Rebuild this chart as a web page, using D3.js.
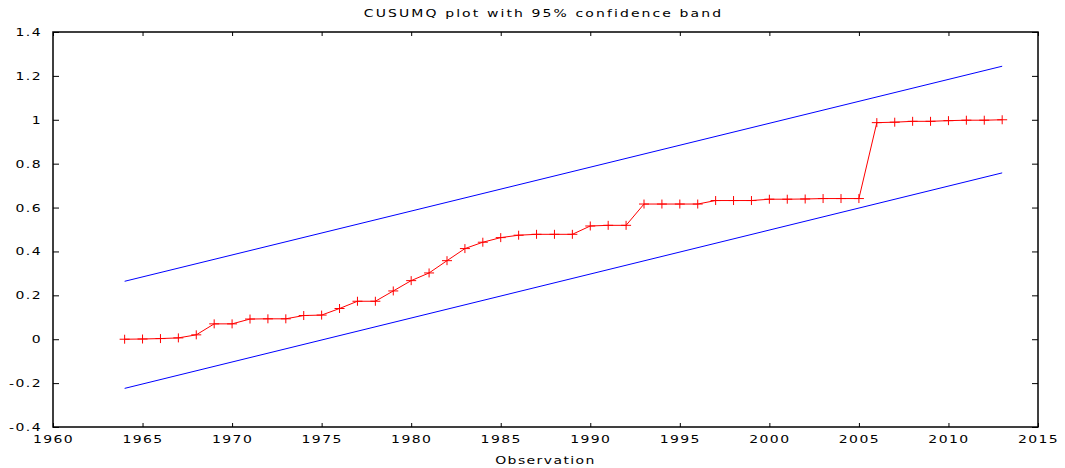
<!DOCTYPE html>
<html>
<head>
<meta charset="utf-8">
<script src="https://cdn.jsdelivr.net/npm/d3@7"></script>
<style>
  body { margin: 0; background: #fff; }
  text { font-family: "DejaVu Sans", sans-serif; }
</style>
</head>
<body>
<div id="chart"></div>
<script>
const width = 1065,
      height = 468;

const margin = { top: 32, right: 27, bottom: 41, left: 53 };

// CUSUMSQ statistic, one value per year
const years = d3.range(1964, 2014);
const cusumsq = [
  0.000, 0.001, 0.003, 0.006, 0.020, 0.070, 0.070, 0.092, 0.093, 0.093,
  0.108, 0.110, 0.140, 0.173, 0.173, 0.220, 0.267, 0.302, 0.358, 0.413,
  0.442, 0.463, 0.474, 0.478, 0.478, 0.478, 0.516, 0.519, 0.519, 0.616,
  0.616, 0.616, 0.616, 0.632, 0.632, 0.632, 0.638, 0.638, 0.639, 0.641,
  0.641, 0.641, 0.987, 0.989, 0.993, 0.993, 0.996, 0.998, 0.998, 1.000
];

// 95% band end points
const bandYears = [1964, 2013];
const upperBand = [0.264, 1.244];
const lowerBand = [-0.224, 0.758];

const xTicks = d3.range(1960, 2016, 5);
const yTicks = [-0.4, -0.2, 0, 0.2, 0.4, 0.6, 0.8, 1, 1.2, 1.4];

const title = "CUSUMQ plot with 95% confidence band",
      xLabel = "Observation";

const stretch = 1.4;

const x = d3.scaleLinear()
    .domain([1960, 2015])
    .range([margin.left, width - margin.right]);

const y = d3.scaleLinear()
    .domain([-0.4, 1.4])
    .range([height - margin.bottom, margin.top]);

const svg = d3.select("#chart")
  .append("svg")
    .attr("width", width)
    .attr("height", height);

const fmt = d => String(+d.toFixed(1));

// Axes, ticks pointing inward on all four sides
const xAxis = svg.append("g")
    .attr("transform", `translate(0,${y.range()[0]})`)
    .call(d3.axisBottom(x).tickValues(xTicks).tickSize(-4).tickFormat(d => d));

const yAxis = svg.append("g")
    .attr("transform", `translate(${margin.left},0)`)
    .call(d3.axisLeft(y).tickValues(yTicks).tickSize(-6).tickFormat(fmt));

svg.append("g")
    .attr("transform", `translate(0,${margin.top})`)
    .call(d3.axisTop(x).tickValues(xTicks).tickSize(-4).tickFormat(""));

svg.append("g")
    .attr("transform", `translate(${width - margin.right},0)`)
    .call(d3.axisRight(y).tickValues(yTicks).tickSize(-6).tickFormat(""));

svg.selectAll(".domain").remove();
svg.selectAll(".tick line").attr("stroke", "#000");

xAxis.selectAll("text")
    .attr("y", 9)
    .attr("dy", "0.71em")
    .attr("fill", "#000")
    .style("font-size", "10px")
    .style("letter-spacing", "1px")
    .attr("transform", `scale(${stretch},1)`);

yAxis.selectAll("text")
    .attr("x", -11 / stretch)
    .attr("dy", "0.35em")
    .attr("fill", "#000")
    .style("font-size", "10px")
    .style("letter-spacing", "1px")
    .attr("transform", `scale(${stretch},1)`);

// Frame
svg.append("rect")
    .attr("x", margin.left)
    .attr("y", margin.top)
    .attr("width", width - margin.left - margin.right)
    .attr("height", height - margin.top - margin.bottom)
    .attr("fill", "none")
    .attr("stroke", "#000")
    .attr("stroke-width", 1.5);

// Confidence band
const bandLine = d3.line()
    .x(d => x(d[0]))
    .y(d => y(d[1]));

[upperBand, lowerBand].forEach(band => {
  svg.append("path")
      .datum(bandYears.map((yr, i) => [yr, band[i]]))
      .attr("fill", "none")
      .attr("stroke", "#0000ff")
      .attr("stroke-width", 1)
      .attr("d", bandLine);
});

// CUSUMSQ line with + markers
const series = years.map((yr, i) => [yr, cusumsq[i]]);

svg.append("path")
    .datum(series)
    .attr("fill", "none")
    .attr("stroke", "#ff0000")
    .attr("stroke-width", 1)
    .attr("d", bandLine);

svg.append("g")
  .selectAll("path")
  .data(series)
  .enter()
  .append("path")
    .attr("fill", "none")
    .attr("stroke", "#ff0000")
    .attr("stroke-width", 1)
    .attr("d", d => {
      const cx = x(d[0]), cy = y(d[1]);
      return `M${cx - 5},${cy}H${cx + 5}M${cx},${cy - 4.5}V${cy + 4.5}`;
    });

// Title and axis label
svg.append("text")
    .attr("x", (width / 2 + 11) / stretch)
    .attr("y", 17)
    .attr("text-anchor", "middle")
    .attr("transform", `scale(${stretch},1)`)
    .style("font-size", "10px")
    .style("letter-spacing", "1.5px")
    .text(title);

svg.append("text")
    .attr("x", (width / 2 + 13) / stretch)
    .attr("y", 464)
    .attr("text-anchor", "middle")
    .attr("transform", `scale(${stretch},1)`)
    .style("font-size", "10px")
    .style("letter-spacing", "1px")
    .text(xLabel);
</script>
</body>
</html>
